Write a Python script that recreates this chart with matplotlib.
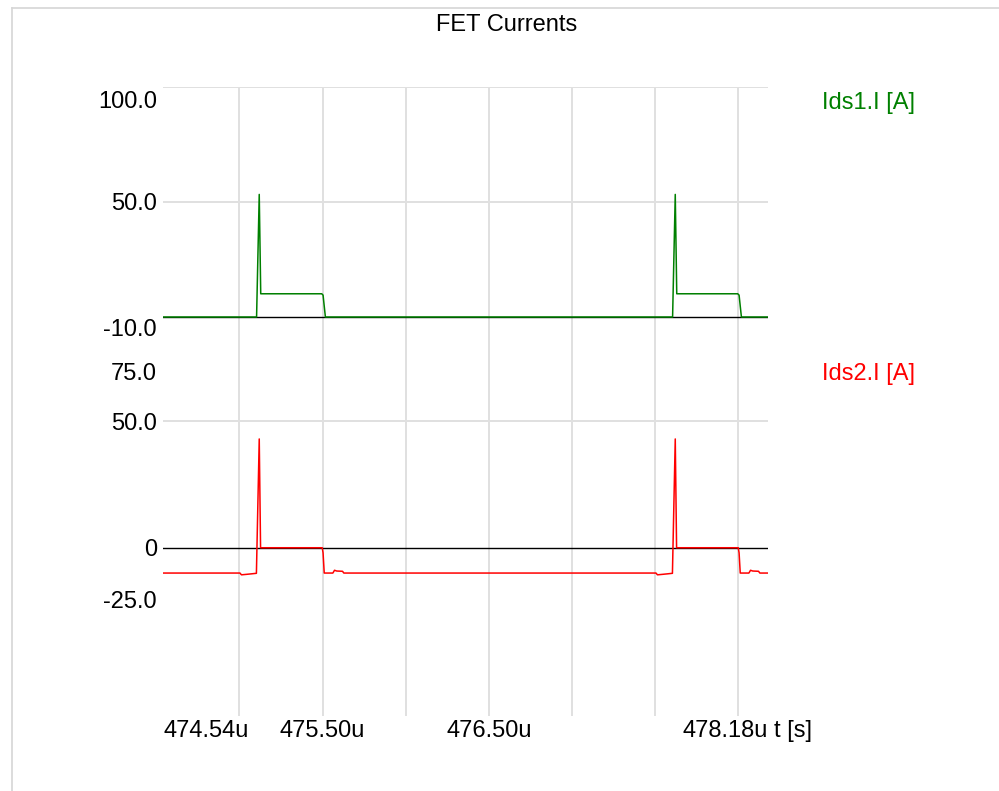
import matplotlib
matplotlib.use("Agg")
from matplotlib import pyplot as plt
from matplotlib.lines import Line2D
from matplotlib.transforms import ScaledTranslation

plt.rcParams['font.family'] = ['Liberation Sans', 'DejaVu Sans']

# time axis in microseconds
t_start, t_end = 474.54, 478.18
xtick_pos = [474.54, 475.50, 476.50, 478.18]
xtick_lbl = ["474.54u", "475.50u", "476.50u", "478.18u"]
xgrid_pos = [475.0, 475.5, 476.0, 476.5, 477.0, 477.5, 478.0]

# Ids1 (upper FET) current [A]
t1 = [474.54, 475.103, 475.119, 475.128, 475.495, 475.503, 475.517,
      477.606, 477.622, 477.631, 477.998, 478.006, 478.020, 478.18]
i1 = [0, 0, 53.3, 10.1, 10.1, 9.5, 0,
      0, 53.3, 10.1, 10.1, 9.5, 0, 0]

# Ids2 (lower FET) current [A]
t2 = [474.54, 475.003, 475.012, 475.044, 475.074, 475.102, 475.119, 475.127,
      475.498, 475.503, 475.510, 475.562, 475.572, 475.585, 475.620, 475.628,
      477.506, 477.515, 477.547, 477.577, 477.605, 477.622, 477.630,
      478.001, 478.006, 478.013, 478.065, 478.075, 478.088, 478.123, 478.131, 478.18]
i2 = [-10, -10, -10.7, -10.5, -10.3, -10.1, 43, 0,
      0, -2, -10, -10, -8.9, -9.2, -9.3, -10,
      -10, -10.7, -10.5, -10.3, -10.1, 43, 0,
      0, -2, -10, -10, -8.9, -9.2, -9.3, -10, -10]

top_ticks = [-10, 50, 100]
top_lbls = ["-10.0", "50.0", "100.0"]
top_grid = [50, 100]
bot_ticks = [-25, 0, 50, 75]
bot_lbls = ["-25.0", "0", "50.0", "75.0"]
bot_grid = [50]

W, H = 999, 791
fs = 17
grid_c = '#e0e0e0'

fig = plt.figure(figsize=(W / 100, H / 100), dpi=100)
fig.patch.set_facecolor('white')

def px_axes(x0, y0, x1, y1):
    return fig.add_axes([x0 / W, (H - y1) / H, (x1 - x0) / W, (y1 - y0) / H])

def shift(txt, dy_px):
    txt.set_transform(txt.get_transform() + ScaledTranslation(0, -dy_px / 100, fig.dpi_scale_trans))

# frame lines of the plot window
fig.add_artist(Line2D([12 / W, 1], [1 - 8 / H, 1 - 8 / H], transform=fig.transFigure, color='#d6d6d6', lw=1.2))
fig.add_artist(Line2D([12 / W, 12 / W], [0, 1 - 8 / H], transform=fig.transFigure, color='#d6d6d6', lw=1.2))

fig.text(507 / W, 1 - 25 / H, "FET Currents", ha='center', va='center', fontsize=fs)

# background axes carrying time grid and time labels
axg = px_axes(163, 87, 768, 716)
axg.set_xlim(t_start, t_end)
axg.set_ylim(0, 1)
axg.set_yticks([])
axg.set_xticks(xtick_pos)
axg.set_xticklabels(xtick_lbl, fontsize=fs)
axg.set_xticks(xgrid_pos, minor=True)
axg.xaxis.remove_overlapping_locs = False
axg.grid(which='minor', axis='x', color=grid_c, lw=1.4)
axg.tick_params(which='both', length=0, pad=3)
xl = axg.get_xticklabels()
xl[0].set_ha('left')
xl[-1].set_ha('right')
for s in axg.spines.values():
    s.set_visible(False)
axg.annotate("t [s]", xy=(1, 0), xycoords='axes fraction', xytext=(4.3, -3),
             textcoords='offset points', ha='left', va='top', fontsize=fs)

def panel(y0, y1, t, v, color, ticks, lbls, grid, ylim, name):
    ax = px_axes(163, y0, 768, y1)
    ax.set_facecolor('none')
    ax.set_xlim(t_start, t_end)
    ax.set_ylim(*ylim)
    ax.set_xticks([])
    ax.set_yticks(ticks)
    ax.set_yticklabels(lbls, fontsize=fs)
    ax.set_yticks(grid, minor=True)
    ax.yaxis.remove_overlapping_locs = False
    ax.grid(which='minor', axis='y', color=grid_c, lw=1.4)
    ax.tick_params(which='both', length=0, pad=4.3)
    yl = ax.get_yticklabels()
    yl[0].set_va('bottom')
    shift(yl[0], 1.5)
    yl[-1].set_va('top')
    shift(yl[-1], 4.5)
    for s in ax.spines.values():
        s.set_visible(False)
    ax.axhline(0, color='black', lw=1.0, zorder=2)
    ax.plot(t, v, color=color, lw=1.1, zorder=3)
    ax.annotate(name, xy=(1, 1), xycoords='axes fraction', xytext=(39, -3.3),
                textcoords='offset points', ha='left', va='top', fontsize=fs, color=color)
    return ax

panel(87, 340, t1, i1, '#008000', top_ticks, top_lbls, top_grid, (-10, 100), "Ids1.I [A]")
panel(358, 611, t2, i2, '#ff0000', bot_ticks, bot_lbls, bot_grid, (-25, 75), "Ids2.I [A]")

fig.savefig("out.png", dpi=100)
